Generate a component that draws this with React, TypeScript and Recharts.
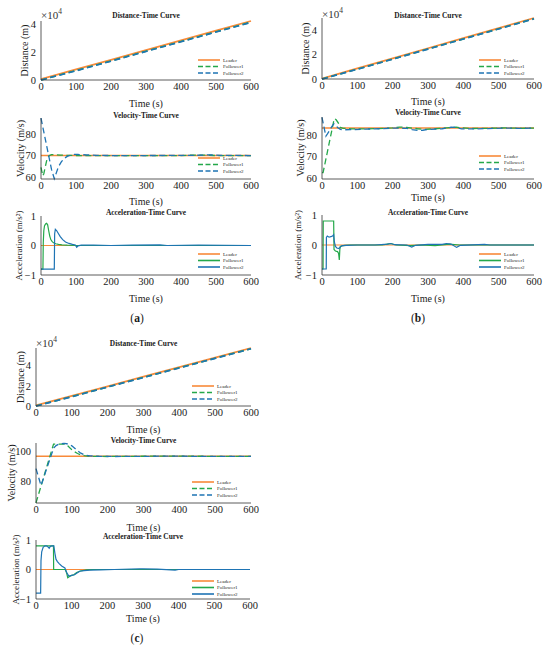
import React from "react";
import { LineChart, Line, XAxis, YAxis, Legend } from "recharts";

const ORANGE = "#F88A3A";
const GREEN = "#24A84A";
const BLUE = "#1E74B4";
const AXIS = "#333333";
const TEXT = "#1a1a1a";
const FONT = "'Liberation Serif', 'Times New Roman', serif";

const TIME_TICKS = [0, 100, 200, 300, 400, 500, 600];
const DIST_TICKS = [0, 20000, 40000];
const VEL_TICKS_AB = [60, 70, 80];
const VEL_TICKS_C = [80, 100];
const ACC_TICKS = [-1, 0, 1];
const NAMES = ["Leader", "Follower1", "Follower2"];

// distance curves share one time grid
const DIST_T = [0, 100, 200, 300, 400, 500, 600];
const FLAT_T = [0, 600];

// (a)
const A_DIST_LEADER = [600, 7600, 14600, 21600, 28600, 35600, 42600];
const A_DIST_F1 = [0, 6800, 13800, 20800, 27800, 34800, 41800];
const A_DIST_F2 = [0, 6600, 13600, 20600, 27600, 34600, 41600];

const A_VEL_LEADER = [70, 70];
const A_VEL_F1_T = [0, 5, 8, 12, 16, 20, 25, 30, 40, 55, 70, 100, 200, 300, 400, 440, 470, 500, 600];
const A_VEL_F1 = [64.5, 60.5, 61.5, 64.5, 67.5, 69.3, 70.1, 70.4, 70.4, 70.2, 70.1, 70, 70, 70, 70, 70.2, 70.2, 70, 70];
const A_VEL_F2_T = [0, 10, 20, 30, 38, 44, 50, 58, 66, 75, 85, 95, 105, 130, 160, 200, 300, 440, 480, 520, 600];
const A_VEL_F2 = [87.5, 79.5, 71.5, 63.5, 59.2, 62, 64.8, 67, 68.6, 69.6, 70.2, 70.5, 70.5, 70.3, 70.1, 70, 70, 70.1, 70.3, 70.1, 70];

const A_ACC_LEADER = [0, 0];
const A_ACC_F1_T = [0, 5.5, 6.5, 8, 10, 13, 16, 19, 22, 25, 28, 32, 36, 42, 50, 60, 75, 100, 600];
const A_ACC_F1 = [-0.8, -0.8, 0.1, 0.5, 0.66, 0.73, 0.75, 0.7, 0.5, 0.32, 0.2, 0.13, 0.09, 0.06, 0.04, 0.02, 0.01, 0, 0];
const A_ACC_F2_T = [0, 38, 39, 41, 45, 50, 55, 62, 70, 80, 90, 98, 102, 106, 115, 150, 200, 260, 340, 360, 450, 600];
const A_ACC_F2 = [-0.8, -0.8, 0.4, 0.55, 0.5, 0.4, 0.3, 0.2, 0.12, 0.07, 0.04, 0.02, -0.06, -0.01, 0.01, 0.01, 0, 0.01, 0.02, 0, 0.01, 0];

// (b)
const B_DIST_LEADER = [400, 8700, 17000, 25300, 33600, 41900, 50200];
const B_DIST_F1 = [0, 8100, 16400, 24700, 33000, 41300, 49600];
const B_DIST_F2 = [0, 8000, 16300, 24600, 32900, 41200, 49500];

const B_VEL_LEADER = [83.3, 83.3];
const B_VEL_F1_T = [0, 3, 10, 20, 33, 36, 40, 46, 49, 52, 60, 80, 120, 160, 200, 220, 240, 270, 290, 320, 360, 380, 420, 470, 520, 560, 600];
const B_VEL_F1 = [62.5, 62.5, 68, 76, 86.4, 87.8, 87.2, 85.8, 84.5, 83.6, 83.2, 83, 82.9, 83.1, 83.4, 83.8, 83.6, 83, 82.7, 83, 83.5, 83.7, 83.1, 83.2, 83.4, 83.2, 83.3];
const B_VEL_F2_T = [0, 11, 14, 18, 22, 26, 30, 34, 38, 44, 52, 60, 80, 120, 160, 200, 240, 255, 270, 285, 300, 340, 365, 380, 395, 430, 470, 520, 560, 600];
const B_VEL_F2 = [88.3, 79.5, 80.2, 81.3, 82.4, 83.5, 84.6, 85.3, 84.8, 83.6, 82.7, 82.5, 82.6, 82.8, 83, 83.3, 83.2, 82.6, 82.2, 82.3, 82.7, 83, 83.7, 83.6, 82.9, 82.9, 83.1, 83.3, 83.2, 83.3];

const B_ACC_LEADER = [0, 0];
const B_ACC_F1_T = [0, 3, 3.5, 33, 34, 38, 44, 47, 49, 50.5, 52, 56, 65, 80, 170, 185, 195, 210, 250, 280, 320, 360, 390, 600];
const B_ACC_F1 = [-0.8, -0.8, 0.8, 0.8, -0.15, -0.2, -0.22, -0.28, -0.5, -0.15, -0.05, -0.03, -0.01, 0, 0, 0.03, 0.05, 0, -0.02, 0, -0.02, 0.03, 0, 0];
const B_ACC_F2_T = [0, 12, 12.5, 15, 20, 25, 30, 33, 35, 38, 42, 48, 52, 58, 70, 100, 150, 185, 195, 205, 240, 254, 265, 300, 340, 352, 365, 381, 392, 460, 475, 600];
const B_ACC_F2 = [-0.8, -0.8, 0.25, 0.3, 0.26, 0.28, 0.3, 0.34, 0.1, -0.05, -0.1, -0.12, -0.06, -0.02, -0.01, 0, 0, 0.03, 0.05, 0.01, 0, -0.07, -0.01, 0.02, 0.02, 0.05, 0.03, -0.08, -0.01, 0.02, 0, 0];

// (c)
const C_DIST_LEADER = [600, 10100, 19600, 29100, 38600, 48100, 57600];
const C_DIST_F1 = [0, 9300, 18900, 28400, 37900, 47400, 56900];
const C_DIST_F2 = [0, 9200, 18800, 28300, 37800, 47300, 56800];

const C_VEL_LEADER = [96.7, 96.7];
const C_VEL_F1_T = [0, 49, 82, 86, 90, 95, 100, 108, 116, 125, 135, 145, 160, 200, 260, 320, 380, 440, 500, 600];
const C_VEL_F1 = [65.6, 104.8, 104.8, 104.3, 103.3, 102.1, 101, 99.6, 98.5, 97.6, 97.1, 96.8, 96.6, 96.5, 96.6, 96.7, 96.8, 96.7, 96.6, 96.6];
const C_VEL_F2_T = [0, 14, 18, 24, 30, 37, 44, 50, 56, 63, 70, 78, 86, 92, 100, 108, 116, 125, 135, 150, 180, 220, 300, 380, 450, 600];
const C_VEL_F2 = [88.4, 77.2, 79.8, 84.2, 88.6, 93.4, 98.4, 102.3, 103.8, 104.6, 105, 105.2, 105, 104.6, 103.6, 102, 100.3, 98.7, 97.6, 96.9, 96.6, 96.5, 96.6, 96.8, 96.6, 96.6];

const C_ACC_LEADER = [0, 0];
const C_ACC_F1_T = [0, 49, 49.5, 82, 86, 89, 94, 100, 106, 114, 124, 142, 160, 600];
const C_ACC_F1 = [0.8, 0.8, 0, 0, -0.12, -0.28, -0.24, -0.2, -0.18, -0.1, -0.05, -0.01, 0, 0];
const C_ACC_F2_T = [0, 13, 14, 16, 20, 25, 30, 34, 37, 40, 44, 50, 53, 56, 60, 65, 72, 81, 86, 92, 100, 108, 115, 123, 135, 151, 180, 220, 290, 300, 340, 390, 400, 450, 600];
const C_ACC_F2 = [-0.8, -0.8, 0.3, 0.6, 0.75, 0.8, 0.8, 0.76, 0.72, 0.78, 0.8, 0.8, 0.55, 0.35, 0.27, 0.2, 0.12, 0.05, -0.1, -0.22, -0.2, -0.18, -0.12, -0.06, -0.04, -0.02, -0.01, 0, 0.02, 0.02, 0.01, -0.02, 0, 0, 0];

type Pt = { t: number; v: number };
type Series = { name: string; data: Pt[]; color: string; dash?: string; width: number };
type Box = { x0: number; y0: number; x1: number; y1: number };

const zip = (t: number[], v: number[]): Pt[] => t.map((x, i) => ({ t: x, v: v[i] }));

const dashed = (leader: Pt[], f1: Pt[], f2: Pt[], w: number): Series[] => [
  { name: NAMES[0], data: leader, color: ORANGE, width: w + 0.2 },
  { name: NAMES[1], data: f1, color: GREEN, dash: "6 3.5", width: w },
  { name: NAMES[2], data: f2, color: BLUE, dash: "6 3.5", width: w },
];
const solid = (leader: Pt[], f1: Pt[], f2: Pt[], w: number): Series[] => [
  { name: NAMES[0], data: leader, color: ORANGE, width: w },
  { name: NAMES[1], data: f1, color: GREEN, width: w },
  { name: NAMES[2], data: f2, color: BLUE, width: w },
];

const fmtDist = (v: number) => String(v / 10000);
const fmtNum = (v: number) => (v < 0 ? "\u2212" + Math.abs(v) : String(v));

type PlotCfg = {
  key: string;
  box: Box;
  domain: any[];
  ticks: number[];
  fmt: (v: number) => string;
  title: string;
  titleY: number;
  ylabel: string;
  ylabelX: number;
  ylabelSize: number;
  xlabelY: number;
  sci?: { x: number; y: number };
  legend: { x: number; y: number };
  series: Series[];
};

const PLOTS: PlotCfg[] = [
  {
    key: "a1", box: { x0: 41, y0: 21, x1: 251, y1: 80 }, domain: [0, "dataMax"], ticks: DIST_TICKS, fmt: fmtDist,
    title: "Distance-Time Curve", titleY: 15, ylabel: "Distance (m)", ylabelX: 24, ylabelSize: 10, xlabelY: 103,
    sci: { x: 41, y: 19 }, legend: { x: 198, y: 57 },
    series: dashed(zip(DIST_T, A_DIST_LEADER), zip(DIST_T, A_DIST_F1), zip(DIST_T, A_DIST_F2), 1.6),
  },
  {
    key: "a2", box: { x0: 41, y0: 118, x1: 251, y1: 179 }, domain: [59, 87.6], ticks: VEL_TICKS_AB, fmt: fmtNum,
    title: "Velocity-Time Curve", titleY: 115, ylabel: "Velocity (m/s)", ylabelX: 20, ylabelSize: 10, xlabelY: 201,
    legend: { x: 198, y: 155 },
    series: dashed(zip(FLAT_T, A_VEL_LEADER), zip(A_VEL_F1_T, A_VEL_F1), zip(A_VEL_F2_T, A_VEL_F2), 1.3),
  },
  {
    key: "a3", box: { x0: 41, y0: 216, x1: 251, y1: 275 }, domain: [-1, 1], ticks: ACC_TICKS, fmt: fmtNum,
    title: "Acceleration-Time Curve", titleY: 212, ylabel: "Acceleration (m/s\u00B2)", ylabelX: 19, ylabelSize: 9, xlabelY: 298,
    legend: { x: 198, y: 251 },
    series: solid(zip(FLAT_T, A_ACC_LEADER), zip(A_ACC_F1_T, A_ACC_F1), zip(A_ACC_F2_T, A_ACC_F2), 1.2),
  },
  {
    key: "b1", box: { x0: 322, y0: 18, x1: 534, y1: 79 }, domain: [0, "dataMax"], ticks: DIST_TICKS, fmt: fmtDist,
    title: "Distance-Time Curve", titleY: 15, ylabel: "Distance (m)", ylabelX: 305, ylabelSize: 10, xlabelY: 101,
    sci: { x: 322, y: 18 }, legend: { x: 479, y: 57 },
    series: dashed(zip(DIST_T, B_DIST_LEADER), zip(DIST_T, B_DIST_F1), zip(DIST_T, B_DIST_F2), 1.6),
  },
  {
    key: "b2", box: { x0: 322, y0: 117, x1: 534, y1: 179 }, domain: [59.5, 88.5], ticks: VEL_TICKS_AB, fmt: fmtNum,
    title: "Velocity-Time Curve", titleY: 112, ylabel: "Velocity (m/s)", ylabelX: 300, ylabelSize: 10, xlabelY: 197,
    legend: { x: 479, y: 153 },
    series: dashed(zip(FLAT_T, B_VEL_LEADER), zip(B_VEL_F1_T, B_VEL_F1), zip(B_VEL_F2_T, B_VEL_F2), 1.3),
  },
  {
    key: "b3", box: { x0: 322, y0: 215, x1: 534, y1: 275 }, domain: [-1, 1], ticks: ACC_TICKS, fmt: fmtNum,
    title: "Acceleration-Time Curve", titleY: 212, ylabel: "Acceleration (m/s\u00B2)", ylabelX: 298, ylabelSize: 9, xlabelY: 298,
    legend: { x: 479, y: 251 },
    series: solid(zip(FLAT_T, B_ACC_LEADER), zip(B_ACC_F1_T, B_ACC_F1), zip(B_ACC_F2_T, B_ACC_F2), 1.2),
  },
  {
    key: "c1", box: { x0: 36, y0: 348, x1: 251, y1: 406 }, domain: [0, "dataMax"], ticks: DIST_TICKS, fmt: fmtDist,
    title: "Distance-Time Curve", titleY: 343, ylabel: "Distance (m)", ylabelX: 20, ylabelSize: 10, xlabelY: 429,
    sci: { x: 36, y: 347 }, legend: { x: 192, y: 383 },
    series: dashed(zip(DIST_T, C_DIST_LEADER), zip(DIST_T, C_DIST_F1), zip(DIST_T, C_DIST_F2), 1.6),
  },
  {
    key: "c2", box: { x0: 36, y0: 443, x1: 251, y1: 503 }, domain: [65.5, 105.5], ticks: VEL_TICKS_C, fmt: fmtNum,
    title: "Velocity-Time Curve", titleY: 440, ylabel: "Velocity (m/s)", ylabelX: 11, ylabelSize: 10, xlabelY: 527,
    legend: { x: 192, y: 479 },
    series: dashed(zip(FLAT_T, C_VEL_LEADER), zip(C_VEL_F1_T, C_VEL_F1), zip(C_VEL_F2_T, C_VEL_F2), 1.3),
  },
  {
    key: "c3", box: { x0: 36, y0: 540, x1: 250, y1: 599 }, domain: [-1, 1], ticks: ACC_TICKS, fmt: fmtNum,
    title: "Acceleration-Time Curve", titleY: 536, ylabel: "Acceleration (m/s\u00B2)", ylabelX: 16, ylabelSize: 9, xlabelY: 618,
    legend: { x: 192, y: 578 },
    series: solid(zip(FLAT_T, C_ACC_LEADER), zip(C_ACC_F1_T, C_ACC_F1), zip(C_ACC_F2_T, C_ACC_F2), 1.2),
  },
];

const AXW = 40;
const PADT = 8;
const PADR = 14;
const AXH = 22;

const LegendBox = ({ series }: { series: Series[] }) => (
  <svg width={60} height={20} style={{ display: "block", overflow: "visible" }}>
    {series.map((s, i) => {
      const y = 3 + i * 6.5;
      return (
        <g key={s.name}>
          <line x1={0} x2={22} y1={y} y2={y} stroke={s.color} strokeWidth={s.dash ? 1.4 : 1.6} strokeDasharray={s.dash ? "5 2.5" : undefined} />
          <text x={25} y={y} fontSize={5} fontFamily={FONT} fill={TEXT} dominantBaseline="central">{s.name}</text>
        </g>
      );
    })}
  </svg>
);

const SubPlot = ({ cfg }: { cfg: PlotCfg }) => {
  const { box } = cfg;
  const left = box.x0 - AXW;
  const top = box.y0 - PADT;
  const w = box.x1 - box.x0 + AXW + PADR;
  const h = box.y1 - box.y0 + PADT + AXH;
  const tickStyle = { fontSize: 10.5, fill: TEXT, fontFamily: FONT };
  return (
    <div style={{ position: "absolute", left, top, width: w, height: h }}>
      <LineChart width={w} height={h} margin={{ top: PADT, right: PADR, bottom: 0, left: 0 }}>
        <XAxis
          dataKey="t"
          type="number"
          domain={[0, 600]}
          ticks={TIME_TICKS}
          interval={0}
          height={AXH}
          tickLine={false}
          tickSize={2}
          tickMargin={1}
          axisLine={{ stroke: AXIS, strokeWidth: 0.8 }}
          tick={tickStyle}
        />
        <YAxis
          type="number"
          domain={cfg.domain}
          ticks={cfg.ticks}
          interval={0}
          tickFormatter={cfg.fmt}
          width={AXW}
          tickLine={false}
          tickSize={3}
          tickMargin={2}
          axisLine={{ stroke: AXIS, strokeWidth: 0.8 }}
          tick={tickStyle}
        />
        {cfg.series.map((s) => (
          <Line
            key={s.name}
            name={s.name}
            data={s.data}
            dataKey="v"
            type="linear"
            stroke={s.color}
            strokeWidth={s.width}
            strokeDasharray={s.dash}
            dot={false}
            activeDot={false}
            isAnimationActive={false}
          />
        ))}
        <Legend
          layout="vertical"
          align="center"
          verticalAlign="middle"
          wrapperStyle={{ left: cfg.legend.x - left, top: cfg.legend.y - top, width: 60, height: 20 }}
          content={() => <LegendBox series={cfg.series} />}
        />
      </LineChart>
    </div>
  );
};

const Texts = () => (
  <svg width={550} height={650} style={{ position: "absolute", left: 0, top: 0, pointerEvents: "none" }}>
    {PLOTS.map((p) => {
      const cx = (p.box.x0 + p.box.x1) / 2;
      const cy = (p.box.y0 + p.box.y1) / 2;
      return (
        <g key={p.key} fontFamily={FONT} fill={TEXT}>
          <text x={cx} y={p.titleY} fontSize={7.4} fontWeight="bold" textAnchor="middle" dominantBaseline="central">{p.title}</text>
          <text x={p.ylabelX} y={cy} fontSize={p.ylabelSize} textAnchor="middle" dominantBaseline="central" transform={`rotate(-90 ${p.ylabelX} ${cy})`}>{p.ylabel}</text>
          <text x={cx} y={p.xlabelY} fontSize={10} textAnchor="middle" dominantBaseline="central">Time (s)</text>
          {p.sci && (
            <text x={p.sci.x} y={p.sci.y} fontSize={11} fill="#333">
              {"\u00D710"}
              <tspan fontSize={7.5} dy={-5}>4</tspan>
            </text>
          )}
        </g>
      );
    })}
    <g fontFamily={FONT} fill={TEXT} fontSize={11.5}>
      <text x={137} y={318} textAnchor="middle" dominantBaseline="central">(<tspan fontWeight="bold">a</tspan>)</text>
      <text x={418} y={318} textAnchor="middle" dominantBaseline="central">(<tspan fontWeight="bold">b</tspan>)</text>
      <text x={137} y={638} textAnchor="middle" dominantBaseline="central">(<tspan fontWeight="bold">c</tspan>)</text>
    </g>
  </svg>
);

export default function App() {
  return (
    <div style={{ position: "absolute", left: 0, top: 0, width: 550, height: 650, background: "#fff", overflow: "hidden" }}>
      {PLOTS.map((p) => (
        <SubPlot key={p.key} cfg={p} />
      ))}
      <Texts />
    </div>
  );
}
